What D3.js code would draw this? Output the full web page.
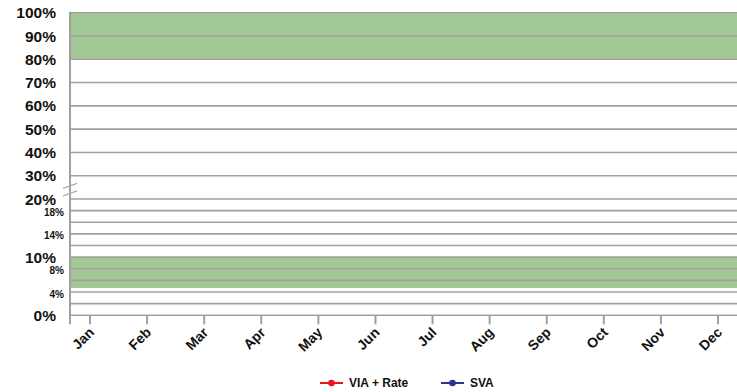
<!DOCTYPE html>
<html><head><meta charset="utf-8">
<script src="https://cdn.jsdelivr.net/npm/d3@7"></script>
<style>
html,body{margin:0;padding:0;background:#fff;}
svg text{font-family:"Liberation Sans",Arial,sans-serif;font-weight:bold;fill:#111;}
</style></head>
<body><svg id="c" width="737" height="392"></svg>
<script>
const months = ["Jan","Feb","Mar","Apr","May","Jun","Jul","Aug","Sep","Oct","Nov","Dec"];
const viaRate = [null,null,null,null,null,null,null,null,null,null,null,null];
const sva = [null,null,null,null,null,null,null,null,null,null,null,null];
const seriesNames = ["VIA + Rate","SVA"];
const seriesColors = ["#e8141c","#2b3590"];
const upperGrid = [30,40,50,60,70,80,90,100];
const lowerGrid = [0,2,4,6,8,10,12,14,16,18,20];
const bigLabels = [0,10,20,30,40,50,60,70,80,90,100];
const smallLabels = [4,8,14,18];
const bands = [[80,100],[4.7,10]];

(function(){
const W = 737, H = 392;
const mLeft = 70, mTop = 12.7, mBottom = 315.3;
const svg = d3.select("#c");

const y = d3.scaleLinear().domain([0,20,100]).range([mBottom,199,mTop]);
const x = d3.scalePoint().domain(months).range([90,718]);

// bands
svg.append("g").selectAll("rect").data(bands).join("rect")
  .attr("x", mLeft).attr("width", W-mLeft)
  .attr("y", d=>y(d[1])).attr("height", d=>y(d[0])-y(d[1]))
  .attr("fill","#a2c896");

// gridlines
const grid = upperGrid.concat(lowerGrid);
svg.append("g").selectAll("line").data(grid).join("line")
  .attr("x1", mLeft).attr("x2", W)
  .attr("y1", d=>y(d)).attr("y2", d=>y(d))
  .attr("stroke","#a39f9f").attr("stroke-width",1.6);

// y axis line
svg.append("line").attr("x1",mLeft).attr("x2",mLeft).attr("y1",mTop-1).attr("y2",mBottom+9)
  .attr("stroke","#a39f9f").attr("stroke-width",2);
// x axis ticks
svg.append("g").selectAll("line").data(months).join("line")
  .attr("x1", d=>x(d)).attr("x2", d=>x(d)).attr("y1", mBottom).attr("y2", mBottom+9)
  .attr("stroke","#a39f9f").attr("stroke-width",2);

// break marks
const brk = svg.append("g");
[25.6, 22.4].forEach(v=>{
  brk.append("line").attr("x1",mLeft-7).attr("x2",mLeft+7)
    .attr("y1",y(v)+2.5).attr("y2",y(v)-2.5)
    .attr("stroke","#9fb3b3").attr("stroke-width",1.3);
});

// y labels
svg.append("g").selectAll("text").data(bigLabels).join("text")
  .attr("x", 56).attr("y", d=>y(d)).attr("dy","0.36em")
  .attr("text-anchor","end").style("font-size","15.5px")
  .text(d=>d+"%");
svg.append("g").selectAll("text").data(smallLabels).join("text")
  .attr("x", 64).attr("y", d=>y(d)+2).attr("dy","0.36em")
  .attr("text-anchor","end").style("font-size","10px")
  .text(d=>d+"%");

// x labels
svg.append("g").selectAll("text").data(months).join("text")
  .attr("text-anchor","end")
  .attr("transform", d=>`translate(${x(d)+5},${mBottom+18}) rotate(-45)`)
  .style("font-size","14px")
  .text(d=>d);

// series lines (no data)
const line = d3.line().defined(d=>d!=null).x((d,i)=>x(months[i])).y(d=>y(d));
[viaRate, sva].forEach((s,k)=>{
  svg.append("path").datum(s).attr("d", line).attr("fill","none")
    .attr("stroke", seriesColors[k]).attr("stroke-width",2);
});

// legend
const legX = [320, 441];
const lg = svg.append("g");
seriesNames.forEach((n,i)=>{
  const g = lg.append("g").attr("transform",`translate(${legX[i]},383)`);
  g.append("line").attr("x1",0).attr("x2",23).attr("stroke",seriesColors[i]).attr("stroke-width",2);
  g.append("circle").attr("cx",11.5).attr("r",3.3).attr("fill",seriesColors[i]);
  g.append("text").attr("x",29).attr("dy","0.36em").style("font-size","12px").text(n);
});
})();
</script></body></html>
